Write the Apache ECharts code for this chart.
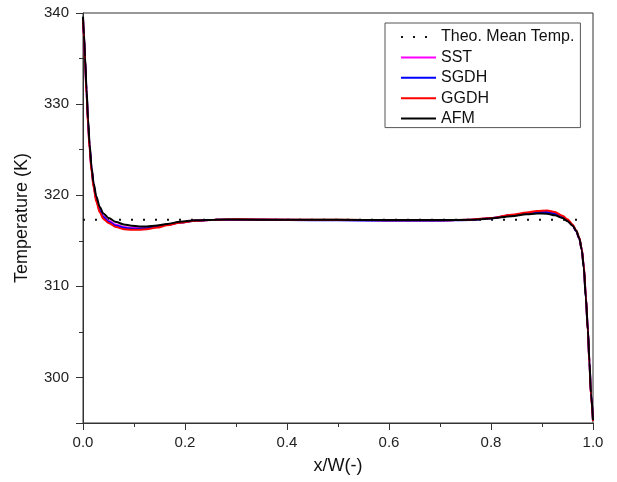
<!DOCTYPE html>
<html>
<head>
<meta charset="utf-8">
<script src="https://cdn.jsdelivr.net/npm/echarts@6/dist/echarts.min.js"></script>
<style>
html,body{margin:0;padding:0;background:#fff;}
#chart{width:617px;height:482px;}
</style>
</head>
<body>
<div id="chart"></div>
<script>
// x positions (x/W)
var xs   = [0, 0.002, 0.004, 0.007, 0.01, 0.013, 0.017, 0.021, 0.026, 0.033, 0.04, 0.05, 0.065, 0.08, 0.095, 0.11, 0.125, 0.145, 0.165, 0.19, 0.22, 0.26, 0.3, 0.4, 0.5, 0.6, 0.7, 0.76, 0.8, 0.84, 0.87, 0.89, 0.91, 0.925, 0.94, 0.95, 0.96, 0.967, 0.973, 0.978, 0.982, 0.986, 0.99, 0.993, 0.996, 1.0];
var sst  = [339.4, 337.4, 335.0, 331.3, 328.0, 325.3, 322.8, 321.1, 319.6, 318.4, 317.7, 317.2, 316.75, 316.5, 316.4, 316.38, 316.42, 316.56, 316.78, 317.02, 317.22, 317.3, 317.32, 317.3, 317.28, 317.25, 317.25, 317.3, 317.48, 317.78, 318.0, 318.12, 318.12, 317.95, 317.6, 317.2, 316.7, 316.05, 315.25, 314.05, 312.1, 308.8, 305.2, 301.7, 298.2, 295.3];
var sgdh = [339.4, 337.3, 334.9, 331.2, 327.9, 325.2, 322.7, 321.0, 319.5, 318.3, 317.6, 317.1, 316.65, 316.42, 316.33, 316.32, 316.37, 316.52, 316.75, 317.0, 317.2, 317.3, 317.32, 317.28, 317.25, 317.2, 317.2, 317.28, 317.48, 317.8, 318.02, 318.15, 318.17, 318.0, 317.65, 317.25, 316.72, 316.08, 315.28, 314.05, 312.1, 308.8, 305.1, 301.6, 298.1, 295.3];
var ggdh = [339.3, 337.2, 334.7, 331.0, 327.7, 325.0, 322.5, 320.8, 319.3, 318.1, 317.4, 316.95, 316.5, 316.27, 316.2, 316.2, 316.27, 316.45, 316.7, 316.98, 317.2, 317.32, 317.35, 317.32, 317.3, 317.25, 317.25, 317.32, 317.5, 317.85, 318.1, 318.28, 318.32, 318.15, 317.75, 317.35, 316.8, 316.15, 315.35, 314.1, 312.2, 308.9, 305.0, 301.5, 298.0, 295.2];
var afm  = [339.6, 337.6, 335.2, 331.6, 328.3, 325.6, 323.0, 321.3, 319.9, 318.7, 318.0, 317.5, 317.05, 316.8, 316.65, 316.58, 316.57, 316.68, 316.85, 317.08, 317.25, 317.32, 317.33, 317.3, 317.3, 317.28, 317.28, 317.3, 317.45, 317.7, 317.9, 318.0, 317.98, 317.8, 317.5, 317.15, 316.65, 316.1, 315.3, 314.0, 312.0, 308.7, 305.2, 301.8, 298.3, 295.3];
var theoX = [0, 0.985];
var theoT = [317.3, 317.3];
var xTicks = [0, 0.2, 0.4, 0.6, 0.8, 1.0];
var yTicks = [300, 310, 320, 330, 340];
var seriesNames = ['Theo. Mean Temp.', 'SST', 'SGDH', 'GGDH', 'AFM'];

function zip(a, b) { return a.map(function (v, i) { return [v, b[i]]; }); }

var chart = echarts.init(document.getElementById('chart'), null, {renderer: 'canvas'});
var font = 'Liberation Sans, Arial, sans-serif';
function mk(name, ys, color) {
  return {
    name: name, type: 'line', data: zip(xs, ys), showSymbol: false, symbol: 'none',
    smooth: 0.3, smoothMonotone: 'x',
    lineStyle: {color: color, width: 2}, itemStyle: {color: color}, z: 3
  };
}
chart.setOption({
  backgroundColor: '#fff',
  animation: false,
  grid: {left: 83, right: 24, top: 13, bottom: 59, show: true, borderColor: '#333', borderWidth: 1, backgroundColor: 'transparent'},
  legend: {
    left: 385, top: 23, orient: 'vertical',
    padding: [6, 6, 1, 15], itemGap: 4.4, itemWidth: 35, itemHeight: 14,
    borderColor: '#555', borderWidth: 1, backgroundColor: '#fff',
    itemStyle: {opacity: 0},
    textStyle: {fontFamily: font, fontSize: 16, color: '#111'},
    data: seriesNames
  },
  xAxis: {
    type: 'value', min: 0, max: 1, interval: 0.2,
    name: 'x/W(-)', nameLocation: 'middle', nameGap: 34,
    nameTextStyle: {fontFamily: font, fontSize: 18, color: '#111'},
    axisLine: {show: true, lineStyle: {color: '#333', width: 1}},
    axisTick: {show: true, length: 7, lineStyle: {color: '#333'}},
    minorTick: {show: true, splitNumber: 2, length: 4, lineStyle: {color: '#333'}},
    splitLine: {show: false},
    axisLabel: {fontFamily: font, fontSize: 15, color: '#222', margin: 12,
      formatter: function (v) { return xTicks.indexOf(Math.round(v * 10) / 10) >= 0 ? v.toFixed(1) : ''; }}
  },
  yAxis: {
    type: 'value', min: 295, max: 340, splitNumber: 5,
    name: 'Temperature (K)', nameLocation: 'middle', nameGap: 52,
    nameTextStyle: {fontFamily: font, fontSize: 18, color: '#111'},
    axisLine: {show: true, lineStyle: {color: '#333', width: 1}},
    axisTick: {show: true, length: 7, lineStyle: {color: '#333'}},
    minorTick: {show: true, splitNumber: 2, length: 4, lineStyle: {color: '#333'}},
    splitLine: {show: false},
    axisLabel: {fontFamily: font, fontSize: 15, color: '#222', margin: 14,
      formatter: function (v) { return yTicks.indexOf(v) >= 0 ? String(v) : ''; }}
  },
  series: [
    {
      name: seriesNames[0], type: 'line', data: zip(theoX, theoT), showSymbol: false, symbol: 'none',
      lineStyle: {color: '#111', width: 2, type: [2, 10]}, itemStyle: {color: '#111'}, z: 2
    },
    mk(seriesNames[1], sst, '#ff00ff'),
    mk(seriesNames[2], sgdh, '#0000ff'),
    mk(seriesNames[3], ggdh, '#ff0000'),
    mk(seriesNames[4], afm, '#000000')
  ]
});
</script>
</body>
</html>
